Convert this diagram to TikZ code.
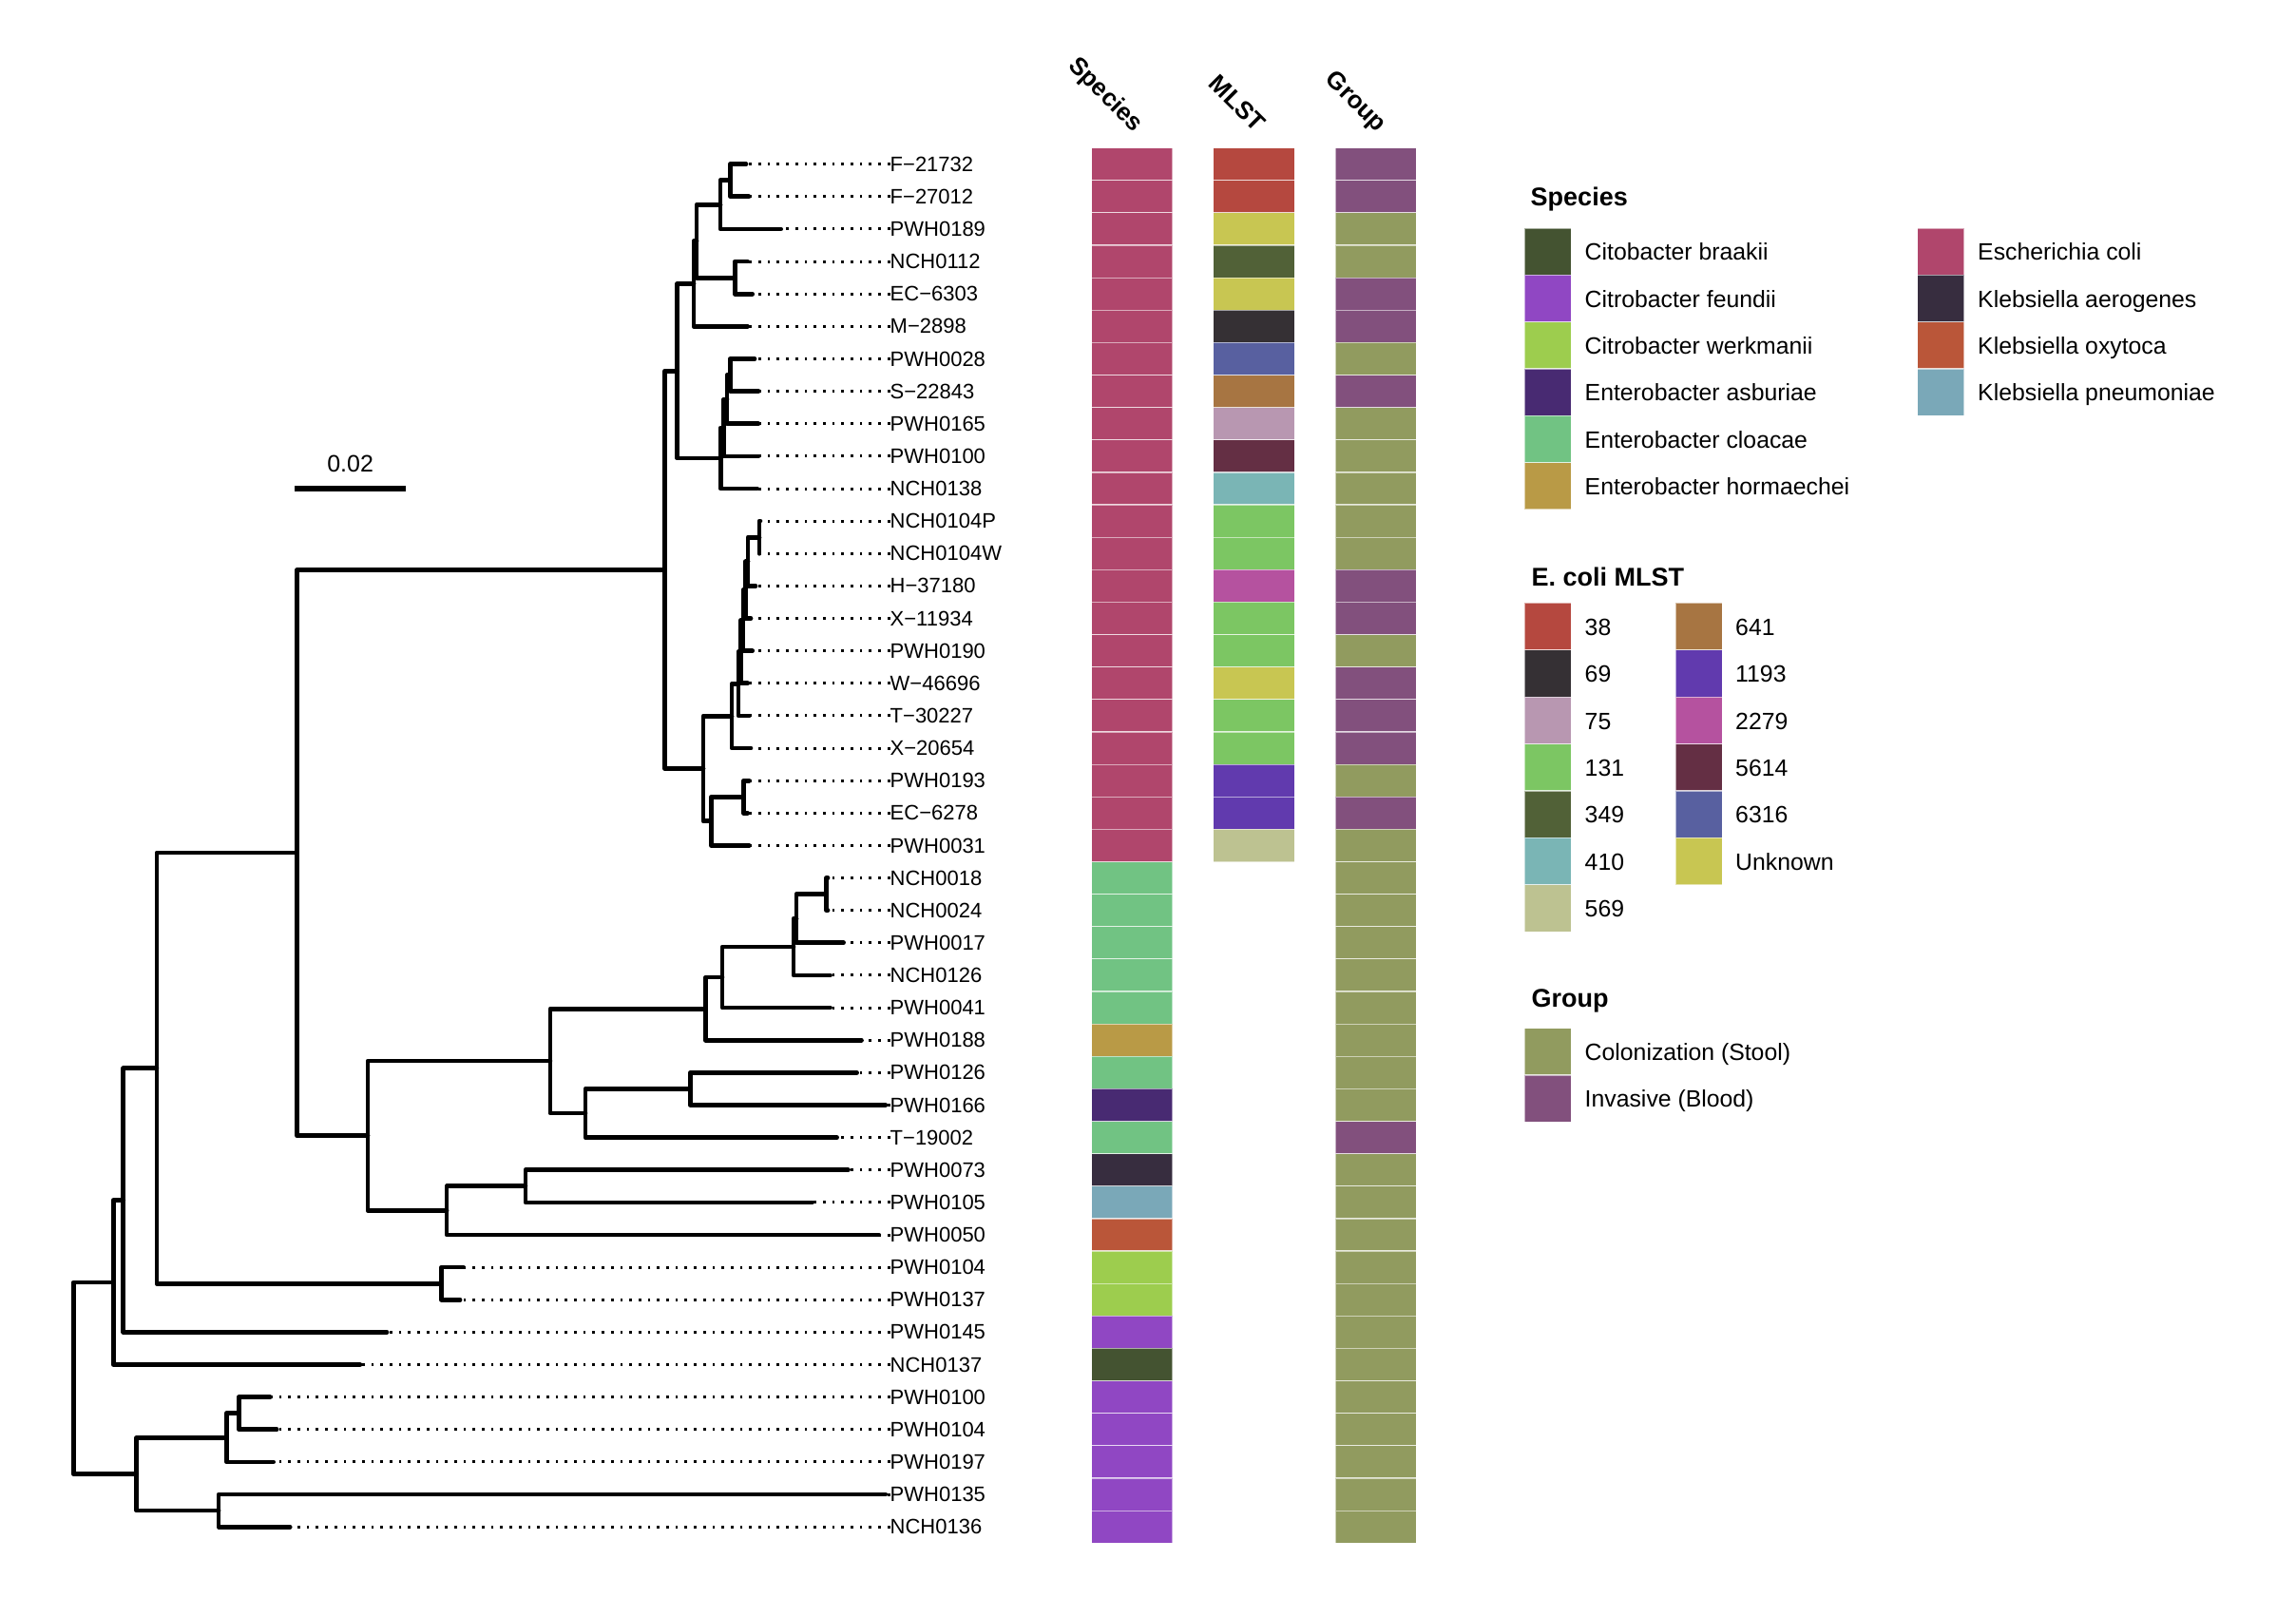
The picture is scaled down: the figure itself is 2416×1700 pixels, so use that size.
\documentclass[tikz,border=0pt]{standalone}
\usepackage{fontspec}
\setmainfont{Liberation Sans}
\definecolor{cEC}{HTML}{B0466C}
\definecolor{cCLO}{HTML}{71C383}
\definecolor{cHOR}{HTML}{B99A46}
\definecolor{cASB}{HTML}{482A72}
\definecolor{cKAE}{HTML}{372D3F}
\definecolor{cKPN}{HTML}{7AA8B8}
\definecolor{cKOX}{HTML}{BA5639}
\definecolor{cWER}{HTML}{9DCD4E}
\definecolor{cFEU}{HTML}{9047C3}
\definecolor{cBRA}{HTML}{445331}
\definecolor{mA}{HTML}{B5483F}
\definecolor{mB}{HTML}{353034}
\definecolor{mC}{HTML}{B897B1}
\definecolor{mD}{HTML}{7CC663}
\definecolor{mE}{HTML}{516137}
\definecolor{mF}{HTML}{7AB5B5}
\definecolor{mG}{HTML}{BDC291}
\definecolor{mH}{HTML}{A77542}
\definecolor{mI}{HTML}{613AAE}
\definecolor{mJ}{HTML}{B5529F}
\definecolor{mK}{HTML}{642F44}
\definecolor{mL}{HTML}{5860A0}
\definecolor{mM}{HTML}{C8C652}
\definecolor{gCOL}{HTML}{919B5F}
\definecolor{gINV}{HTML}{82507D}
\newcommand\RY[1]{172.7+#1*34.13}
\begin{document}
\begin{tikzpicture}[x=1pt,y=-1pt,
  br/.style={line width=4.7pt,line cap=round,line join=round},
  dots/.style={line width=3pt,dash pattern=on 2.7pt off 7pt},
  tip/.style={anchor=west,inner sep=0pt,font=\fontsize{22}{26}\selectfont},
  tile/.style={draw=white,draw opacity=0.55,line width=1.2pt},
  hdr/.style={anchor=base east,rotate=-45,inner sep=0pt,font=\bfseries\fontsize{26}{30}\selectfont},
  ltitle/.style={anchor=base west,inner sep=0pt,font=\bfseries\fontsize{27}{32}\selectfont},
  ltext/.style={anchor=base west,inner sep=0pt,font=\fontsize{24.8}{30}\selectfont}]
\fill[white] (0,0) rectangle (2416,1700);
\useasboundingbox (0,0) rectangle (2416,1700);

% ---------- tips and labels ----------
\foreach \i/\tx/\nm in {0/785/F−21732,1/788/F−27012,2/821.7/PWH0189,3/786.7/NCH0112,4/791.7/EC−6303,
  5/786.7/M−2898,6/794/PWH0028,7/798/S−22843,8/798/PWH0165,9/798/PWH0100,10/796.7/NCH0138,
  11/800/NCH0104P,12/799/NCH0104W,13/795/H−37180,14/790/X−11934,15/791.7/PWH0190,16/786.7/W−46696,
  17/788.3/T−30227,18/790/X−20654,19/788.3/PWH0193,20/786.7/EC−6278,21/788.3/PWH0031,
  22/871/NCH0018,23/871/NCH0024,24/887.6/PWH0017,25/873.6/NCH0126,26/873.6/PWH0041,27/906.5/PWH0188,
  28/901.6/PWH0126,29/931.8/PWH0166,30/880.6/T−19002,31/892.5/PWH0073,32/854.6/PWH0105,33/924.8/PWH0050,
  34/487.7/PWH0104,35/484.1/PWH0137,36/407/PWH0145,37/378.9/NCH0137,38/284.2/PWH0100,39/291.2/PWH0104,
  40/287.7/PWH0197,41/931.8/PWH0135,42/305.2/NCH0136}{
  \coordinate (t\i) at (\tx,{\RY{\i}});
  \node[tip] (l\i) at (936.5,{\RY{\i}}) {\nm};
  \draw[dots] (l\i.west) -- (t\i);
}

% ---------- internal nodes ----------
\coordinate (nA) at (768.3,189.75);
\coordinate (nB) at (758,215.4);
\coordinate (nC) at (773.3,292.15);
\coordinate (nD) at (733,253.8);
\coordinate (nE) at (730,298.6);
\coordinate (nE1) at (768.3,394.55);
\coordinate (nE2) at (765,420.1);
\coordinate (nE3) at (761.7,450.0);
\coordinate (nE4) at (758.3,482.0);
\coordinate (nF) at (712.7,390.3);
\coordinate (nI1) at (799,565.2);
\coordinate (nI2) at (787,590.8);
\coordinate (nI3) at (784.5,620.65);
\coordinate (nI4) at (782,652.7);
\coordinate (nI5) at (779.5,685.75);
\coordinate (nI6) at (777,719.3);
\coordinate (nI7) at (770,753.15);
\coordinate (nK) at (782.3,838.25);
\coordinate (nJ) at (748.3,863.8);
\coordinate (nI8) at (740,808.5);
\coordinate (nG) at (699.5,599.4);
\coordinate (nS) at (869.5,940.65);
\coordinate (nS2) at (838,966.2);
\coordinate (nR) at (835,996.1);
\coordinate (nQ) at (760,1028.1);
\coordinate (nP) at (742.4,1061.15);
\coordinate (nU) at (726.2,1145.4);
\coordinate (nT) at (616,1171.0);
\coordinate (nN) at (578.9,1116.1);
\coordinate (nV) at (552.9,1247.8);
\coordinate (nO) at (470.1,1273.4);
\coordinate (nM) at (387,1194.75);
\coordinate (nL) at (312.5,897.1);
\coordinate (nX) at (464.5,1350.2);
\coordinate (nW) at (164.9,1123.65);
\coordinate (nY) at (129.8,1262.5);
\coordinate (nZ) at (119.3,1349.0);
\coordinate (nAD) at (251.2,1486.7);
\coordinate (nAB) at (238.6,1512.3);
\coordinate (nAC) at (230.1,1589.1);
\coordinate (nAA) at (143.8,1550.7);
\coordinate (root) at (77.2,1449.85);

\foreach \p/\c in {nA/t0,nA/t1,nB/nA,nB/t2,nC/t3,nC/t4,nD/nB,nD/nC,nE/nD,nE/t5,
  nE1/t6,nE1/t7,nE2/nE1,nE2/t8,nE3/nE2,nE3/t9,nE4/nE3,nE4/t10,nF/nE,nF/nE4,
  nI1/t11,nI1/t12,nI2/nI1,nI2/t13,nI3/nI2,nI3/t14,nI4/nI3,nI4/t15,nI5/nI4,nI5/t16,
  nI6/nI5,nI6/t17,nI7/nI6,nI7/t18,nK/t19,nK/t20,nJ/nK,nJ/t21,nI8/nI7,nI8/nJ,
  nG/nF,nG/nI8,nS/t22,nS/t23,nS2/nS,nS2/t24,nR/nS2,nR/t25,nQ/nR,nQ/t26,nP/nQ,nP/t27,
  nU/t28,nU/t29,nT/nU,nT/t30,nN/nP,nN/nT,nV/t31,nV/t32,nO/nV,nO/t33,nM/nN,nM/nO,
  nL/nG,nL/nM,nX/t34,nX/t35,nW/nL,nW/nX,nY/nW,nY/t36,nZ/nY,nZ/t37,
  nAD/t38,nAD/t39,nAB/nAD,nAB/t40,nAC/t41,nAC/t42,nAA/nAB,nAA/nAC,root/nZ,root/nAA}{
  \draw[br] (\p) |- (\c);
}

% ---------- scale bar ----------
\coordinate (sb1) at (310,513.8);
\coordinate (sb2) at (427.3,513.8);
\draw[line width=5.5pt] (sb1) -- (sb2);
\node[anchor=base,inner sep=0pt,font=\fontsize{25}{30}\selectfont] (sbl) at (368.6,496.7) {0.02};

% ---------- heatmap ----------
\foreach \i/\c in {0/cEC,1/cEC,2/cEC,3/cEC,4/cEC,5/cEC,6/cEC,7/cEC,8/cEC,9/cEC,10/cEC,
  11/cEC,12/cEC,13/cEC,14/cEC,15/cEC,16/cEC,17/cEC,18/cEC,19/cEC,20/cEC,21/cEC,
  22/cCLO,23/cCLO,24/cCLO,25/cCLO,26/cCLO,27/cHOR,28/cCLO,29/cASB,30/cCLO,31/cKAE,
  32/cKPN,33/cKOX,34/cWER,35/cWER,36/cFEU,37/cBRA,38/cFEU,39/cFEU,40/cFEU,41/cFEU,42/cFEU}{
  \filldraw[tile,fill=\c] (1148.5,{\RY{\i}-17.07}) rectangle (1234,{\RY{\i}+17.07});
}
\foreach \i/\c in {0/mA,1/mA,2/mM,3/mE,4/mM,5/mB,6/mL,7/mH,8/mC,9/mK,10/mF,11/mD,12/mD,
  13/mJ,14/mD,15/mD,16/mM,17/mD,18/mD,19/mI,20/mI,21/mG}{
  \filldraw[tile,fill=\c] (1276.8,{\RY{\i}-17.07}) rectangle (1362.3,{\RY{\i}+17.07});
}
\foreach \i/\c in {0/gINV,1/gINV,2/gCOL,3/gCOL,4/gINV,5/gINV,6/gCOL,7/gINV,8/gCOL,9/gCOL,
  10/gCOL,11/gCOL,12/gCOL,13/gINV,14/gINV,15/gCOL,16/gINV,17/gINV,18/gINV,19/gCOL,20/gINV,
  21/gCOL,22/gCOL,23/gCOL,24/gCOL,25/gCOL,26/gCOL,27/gCOL,28/gCOL,29/gCOL,30/gINV,31/gCOL,
  32/gCOL,33/gCOL,34/gCOL,35/gCOL,36/gCOL,37/gCOL,38/gCOL,39/gCOL,40/gCOL,41/gCOL,42/gCOL}{
  \filldraw[tile,fill=\c] (1405,{\RY{\i}-17.07}) rectangle (1490.3,{\RY{\i}+17.07});
}
\node[hdr] (hsp) at (1193,140) {Species};
\node[hdr] (hml) at (1321,140) {MLST};
\node[hdr] (hgr) at (1449,140) {Group};

% ---------- legends ----------
\node[ltitle] (lgs) at (1610.5,216.7) {Species};
\foreach \i/\c/\t in {0/cBRA/Citobacter braakii,1/cFEU/Citrobacter feundii,2/cWER/Citrobacter werkmanii,
  3/cASB/Enterobacter asburiae,4/cCLO/Enterobacter cloacae,5/cHOR/Enterobacter hormaechei}{
  \filldraw[tile,fill=\c] (1604.3,{240+\i*49.3}) rectangle (1653.3,{289.3+\i*49.3});
  \node[ltext] (ls\i) at (1667.5,{264.65+\i*49.3+9.2}) {\t};
}
\foreach \i/\c/\t in {0/cEC/Escherichia coli,1/cKAE/Klebsiella aerogenes,2/cKOX/Klebsiella oxytoca,
  3/cKPN/Klebsiella pneumoniae}{
  \filldraw[tile,fill=\c] (2017.8,{240+\i*49.3}) rectangle (2066.5,{289.3+\i*49.3});
  \node[ltext] (lt\i) at (2081,{264.65+\i*49.3+9.2}) {\t};
}
\node[ltitle] (lgm) at (1611.5,616.7) {E. coli MLST};
\foreach \i/\c/\t in {0/mA/38,1/mB/69,2/mC/75,3/mD/131,4/mE/349,5/mF/410,6/mG/569}{
  \filldraw[tile,fill=\c] (1604.3,{634.3+\i*49.4}) rectangle (1653.3,{683.7+\i*49.4});
  \node[ltext] (lm\i) at (1667.5,{659+\i*49.4+9.2}) {\t};
}
\foreach \i/\c/\t in {0/mH/641,1/mI/1193,2/mJ/2279,3/mK/5614,4/mL/6316,5/mM/Unknown}{
  \filldraw[tile,fill=\c] (1763.3,{634.3+\i*49.4}) rectangle (1812.3,{683.7+\i*49.4});
  \node[ltext] (ln\i) at (1826,{659+\i*49.4+9.2}) {\t};
}
\node[ltitle] (lgg) at (1611.5,1059) {Group};
\foreach \i/\c/\t in {0/gCOL/Colonization (Stool),1/gINV/Invasive (Blood)}{
  \filldraw[tile,fill=\c] (1604.3,{1081.5+\i*49.4}) rectangle (1653.3,{1130.9+\i*49.4});
  \node[ltext] (lg\i) at (1667.5,{1106.2+\i*49.4+9.2}) {\t};
}
\end{tikzpicture}
\end{document}
